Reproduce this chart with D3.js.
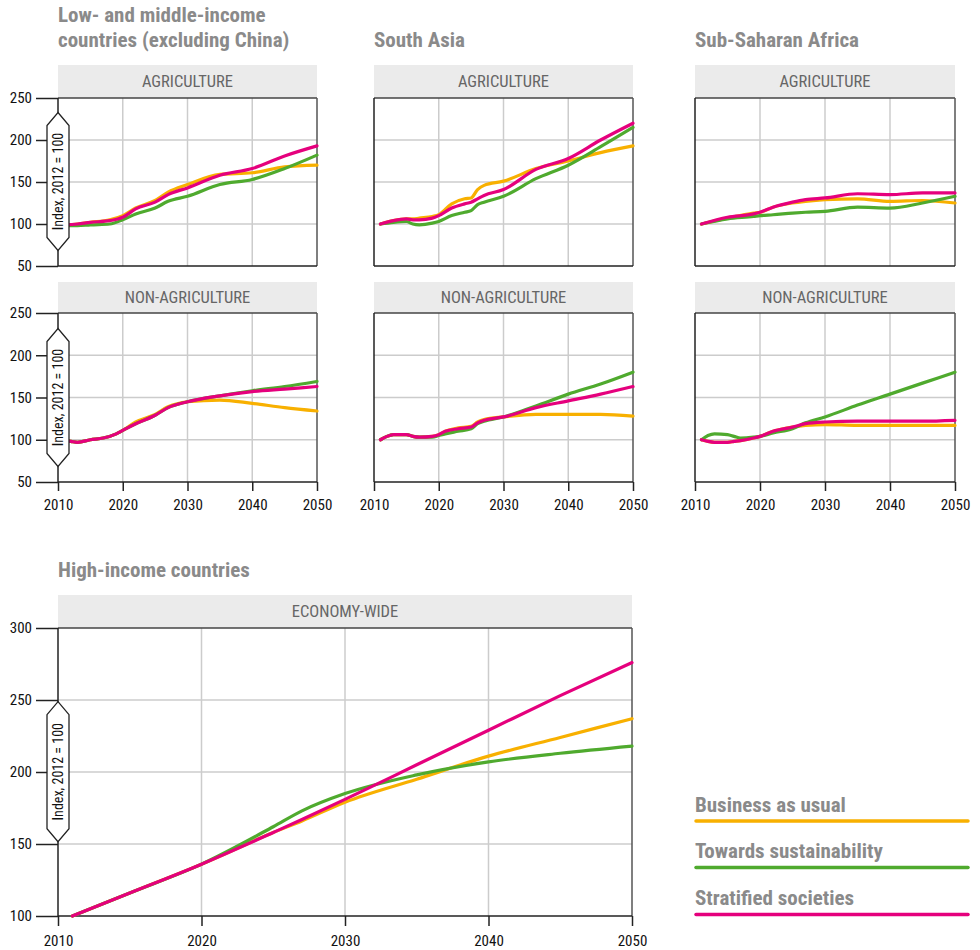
<!DOCTYPE html>
<html><head><meta charset="utf-8">
<script src="https://cdn.jsdelivr.net/npm/d3@7"></script>
<style>body{margin:0;background:#fff} svg{display:block}</style>
</head><body><svg id="c" width="980" height="950"></svg>
<script>
// ---------------- DATA ----------------
const seriesNames = ["Business as usual", "Towards sustainability", "Stratified societies"];
const regionTitles = [["Low- and middle-income", "countries (excluding China)"], ["South Asia"], ["Sub-Saharan Africa"], ["High-income countries"]];
const stripLabels = ["AGRICULTURE", "NON-AGRICULTURE", "ECONOMY-WIDE"];
const xTicks = [2010, 2020, 2030, 2040, 2050];
const yTicksSmall = [50, 100, 150, 200, 250];
const yTicksLarge = [100, 150, 200, 250, 300];
const yAxisLabel = "Index, 2012 = 100";

// Low- and middle-income, agriculture
const lmicAgYears = [2011,2013,2015,2018,2020,2022,2025,2027,2030,2035,2040,2045,2050];
const lmicAgBAU   = [99,100,102,105,110,119,128,138,147,159,161,168,170];
const lmicAgSUS   = [98,98,99,100,105,112,119,127,133,147,153,166,182];
const lmicAgSTR   = [99,100,102,104,108,118,126,135,143,158,166,181,193];

// South Asia, agriculture
const saAgYears = [2011,2013,2015,2016,2017,2019,2020,2022,2024,2025,2026,2027,2030,2035,2040,2045,2050];
const saAgBAU   = [100,104,106,106,107,109,111,124,130,131,141,146,151,166,175,185,193];
const saAgSUS   = [100,102,103,100,99,101,103,110,114,116,123,126,133,154,170,192,215];
const saAgSTR   = [100,104,106,105,105,107,110,119,124,126,130,134,141,165,178,200,220];

// Sub-Saharan Africa, agriculture
const ssaAgYears = [2011,2015,2019,2020,2022,2025,2027,2030,2035,2040,2045,2050];
const ssaAgBAU   = [100,107,113,114,120,125,127,129,130,127,128,125];
const ssaAgSUS   = [100,106,109,110,111,113,114,115,120,119,125,133];
const ssaAgSTR   = [100,108,112,114,120,126,129,131,136,135,137,137];

// Low- and middle-income, non-agriculture
const lmicNaYears = [2011,2012,2013,2015,2017,2019,2020,2022,2025,2027,2030,2035,2040,2045,2050];
const lmicNaBAU   = [99,98,97,100,102,107,111,121,130,139,145,147,143,138,134];
const lmicNaSUS   = [99,98,97,100,102,107,111,119,129,138,145,152,158,163,169];
const lmicNaSTR   = [99,98,97,100,102,107,111,119,129,138,145,152,157,160,163];

// South Asia, non-agriculture
const saNaYears = [2011,2012,2013,2015,2016,2017,2019,2020,2021,2023,2025,2026,2027,2030,2035,2040,2045,2050];
const saNaBAU   = [100,104,106,106,104,103,104,106,110,114,116,121,124,127,130,130,130,128];
const saNaSUS   = [100,104,106,106,104,103,103,105,107,110,113,119,122,127,140,154,166,180];
const saNaSTR   = [100,104,106,106,104,103,104,106,110,113,115,120,123,127,138,146,154,163];

// Sub-Saharan Africa, non-agriculture
const ssaNaYears = [2011,2012,2013,2015,2016,2017,2019,2020,2022,2025,2027,2030,2035,2040,2045,2050];
const ssaNaBAU   = [100,98,97,97,98,99,102,104,110,115,117,118,117,117,117,117];
const ssaNaSUS   = [100,105,107,106,104,102,103,104,108,113,120,127,141,154,167,180];
const ssaNaSTR   = [100,98,97,97,98,99,102,104,110,115,119,121,122,122,122,123];

// High-income countries, economy-wide
const hicYears = [2011,2015,2020,2025,2027,2030,2035,2040,2045,2050];
const hicBAU   = [100,116,136,158,166,179,195,211,224,237];
const hicSUS   = [100,116,136,162,173,185,198,207,213,218];
const hicSTR   = [100,116,136,158,167,181,205,229,253,276];

// ---------------- DRAWING ----------------
const FONT = "'Liberation Sans Narrow','Roboto Condensed',Roboto,'Noto Sans',sans-serif";
const colors = ["#F8B000", "#4FAA2E", "#E5007D"];
const svg = d3.select("#c").style("font-family", FONT);

function panel(o) {
  const x = d3.scaleLinear().domain([2010, 2050]).range([o.x0, o.x1]);
  const y = d3.scaleLinear().domain([o.yTicks[0], o.yTicks[o.yTicks.length - 1]]).range([o.y1, o.y0]);
  const g = svg.append("g");

  // strip
  g.append("rect").attr("x", o.x0).attr("y", o.stripTop).attr("width", o.x1 - o.x0)
    .attr("height", o.y0 - o.stripTop).attr("fill", "#ebebeb");
  g.append("text").attr("x", (o.x0 + o.x1) / 2).attr("y", (o.stripTop + o.y0) / 2)
    .attr("dy", "0.36em").attr("text-anchor", "middle").attr("fill", "#666")
    .attr("font-size", 16.5).text(o.strip);

  // grid
  g.selectAll(".vg").data(xTicks.slice(1, -1)).join("line")
    .attr("x1", d => x(d)).attr("x2", d => x(d)).attr("y1", o.y0).attr("y2", o.y1)
    .attr("stroke", "#cccccc").attr("stroke-width", 1.5);
  g.selectAll(".hg").data(o.yTicks.slice(1, -1)).join("line")
    .attr("x1", o.x0).attr("x2", o.x1).attr("y1", d => y(d)).attr("y2", d => y(d))
    .attr("stroke", "#cccccc").attr("stroke-width", 1.5);

  // frame top/right
  g.append("line").attr("x1", o.x0).attr("x2", o.x1).attr("y1", o.y0).attr("y2", o.y0)
    .attr("stroke", "#444").attr("stroke-width", 1.5);
  g.append("line").attr("x1", o.x1).attr("x2", o.x1).attr("y1", o.y0).attr("y2", o.y1)
    .attr("stroke", "#555").attr("stroke-width", 1.5);

  // axes
  if (o.showY) {
    const ay = g.append("g").attr("transform", `translate(${o.x0},0)`)
      .call(d3.axisLeft(y).tickValues(o.yTicks).tickSize(22).tickPadding(4).tickFormat(d3.format("d")));
    ay.select(".domain").remove();
    ay.selectAll(".tick line").attr("stroke", "#222").attr("stroke-width", 1.5);
    ay.selectAll("text").attr("font-size", 15).attr("fill", "#111").style("font-family", FONT);
  }
  if (o.showX) {
    const ax = g.append("g").attr("transform", `translate(0,${o.y1})`)
      .call(d3.axisBottom(x).tickValues(xTicks).tickSize(o.xTickSize).tickPadding(o.xPad).tickFormat(d3.format("d")));
    ax.select(".domain").remove();
    ax.selectAll(".tick line").attr("stroke", "#222").attr("stroke-width", 1.5);
    ax.selectAll("text").attr("font-size", 15).attr("fill", "#111").style("font-family", FONT);
  }
  g.append("line").attr("x1", o.x0).attr("x2", o.x0).attr("y1", o.y0).attr("y2", o.y1)
    .attr("stroke", "#222").attr("stroke-width", 1.5);
  g.append("line").attr("x1", o.x0).attr("x2", o.x1).attr("y1", o.y1).attr("y2", o.y1)
    .attr("stroke", "#222").attr("stroke-width", 1.5);

  // series lines
  const line = d3.line().x(d => x(d[0])).y(d => y(d[1])).curve(d3.curveMonotoneX);
  o.series.forEach((vals, i) => {
    g.append("path").datum(o.years.map((yr, j) => [yr, vals[j]]))
      .attr("d", line).attr("fill", "none").attr("stroke", colors[i])
      .attr("stroke-width", 3.2).attr("stroke-linejoin", "round").attr("stroke-linecap", "round");
  });

  // y-axis label box
  if (o.labelCY) {
    const cx = o.x0, cy = o.labelCY, hw = 11, hh = o.labelHH || 69, pt = 13;
    g.append("path")
      .attr("d", `M${cx},${cy - hh}L${cx + hw},${cy - hh + pt}L${cx + hw},${cy + hh - pt}L${cx},${cy + hh}L${cx - hw},${cy + hh - pt}L${cx - hw},${cy - hh + pt}Z`)
      .attr("fill", "#fff").attr("stroke", "#222").attr("stroke-width", 1.3);
    g.append("text").attr("transform", `translate(${cx},${cy}) rotate(-90)`)
      .attr("text-anchor", "middle").attr("dy", "0.35em").attr("font-size", 14).attr("fill", "#111")
      .text(yAxisLabel);
  }
}

function title(lines, x, y0) {
  const t = svg.append("text").attr("x", x).attr("y", y0).attr("font-size", 21)
    .attr("font-weight", "bold").attr("fill", "#8a8a8a");
  lines.forEach((l, i) => t.append("tspan").attr("x", x).attr("dy", i === 0 ? 0 : 24.5).text(l));
}

const colX = [[58, 317], [374, 633], [695, 955]];
const topData = [
  [lmicAgYears, [lmicAgBAU, lmicAgSUS, lmicAgSTR]],
  [saAgYears, [saAgBAU, saAgSUS, saAgSTR]],
  [ssaAgYears, [ssaAgBAU, ssaAgSUS, ssaAgSTR]]
];
const midData = [
  [lmicNaYears, [lmicNaBAU, lmicNaSUS, lmicNaSTR]],
  [saNaYears, [saNaBAU, saNaSUS, saNaSTR]],
  [ssaNaYears, [ssaNaBAU, ssaNaSUS, ssaNaSTR]]
];

title(regionTitles[0], 58, 22);
title(regionTitles[1], 374, 46.5);
title(regionTitles[2], 695, 46.5);
title(regionTitles[3], 58, 576.5);

colX.forEach((cx, i) => {
  panel({ x0: cx[0], x1: cx[1], y0: 98, y1: 266, stripTop: 65, yTicks: yTicksSmall,
    strip: stripLabels[0], showY: i === 0, showX: false, years: topData[i][0], series: topData[i][1],
    labelCY: i === 0 ? 181.5 : null });
  panel({ x0: cx[0], x1: cx[1], y0: 313, y1: 482, stripTop: 282, yTicks: yTicksSmall,
    strip: stripLabels[1], showY: i === 0, showX: true, xTickSize: 9, xPad: 8, years: midData[i][0], series: midData[i][1],
    labelCY: i === 0 ? 397.5 : null });
});

panel({ x0: 58, x1: 632, y0: 628, y1: 916, stripTop: 595, yTicks: yTicksLarge,
  strip: stripLabels[2], showY: true, showX: true, xTickSize: 10, xPad: 9, years: hicYears,
  series: [hicBAU, hicSUS, hicSTR], labelCY: 771.7, labelHH: 70 });

// legend
const legY = [811.5, 858, 905];
seriesNames.forEach((n, i) => {
  svg.append("text").attr("x", 695).attr("y", legY[i]).attr("font-size", 21)
    .attr("font-weight", "bold").attr("fill", "#8a8a8a").text(n);
  svg.append("line").attr("x1", 696).attr("x2", 968).attr("y1", legY[i] + 9.5).attr("y2", legY[i] + 9.5)
    .attr("stroke", colors[i]).attr("stroke-width", 3.5).attr("stroke-linecap", "round");
});
</script>
</body></html>
